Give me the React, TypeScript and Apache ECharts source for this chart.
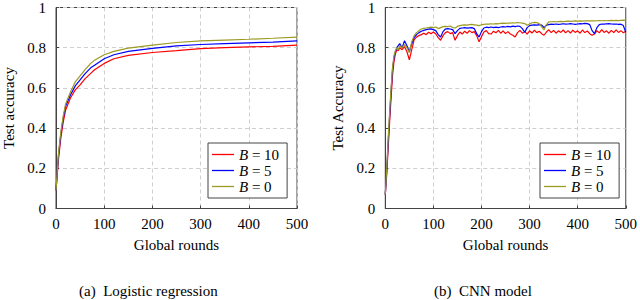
import React, { useEffect, useRef } from "react";
import * as echarts from "echarts";

const roundsLR = [0, 5, 10, 15, 20, 30, 40, 50, 60, 72, 80, 100, 120, 150, 200, 250, 300, 350, 400, 450, 500];
const lrB10 = [0.09, 0.24, 0.35, 0.43, 0.49, 0.55, 0.59, 0.615, 0.645, 0.672, 0.69, 0.722, 0.745, 0.762, 0.776, 0.785, 0.795, 0.8, 0.804, 0.807, 0.813];
const lrB5 = [0.09, 0.26, 0.37, 0.45, 0.51, 0.565, 0.61, 0.64, 0.67, 0.7, 0.713, 0.745, 0.765, 0.782, 0.797, 0.809, 0.816, 0.82, 0.824, 0.828, 0.834];
const lrB0 = [0.09, 0.27, 0.38, 0.46, 0.52, 0.58, 0.63, 0.66, 0.69, 0.722, 0.738, 0.765, 0.782, 0.798, 0.813, 0.826, 0.834, 0.838, 0.842, 0.847, 0.853];

const roundsCNN = [
  0, 3, 6, 9, 12, 15, 18, 21, 24, 27,
  30, 35, 40, 45, 50, 55, 60, 65, 70, 75,
  80, 85, 90, 95, 100, 105, 110, 115, 120, 125,
  130, 135, 140, 145, 150, 155, 160, 165, 170, 175,
  180, 185, 190, 195, 200, 205, 210, 215, 220, 225,
  230, 235, 240, 245, 250, 255, 260, 265, 270, 275,
  280, 285, 290, 295, 300, 305, 310, 315, 320, 325,
  330, 335, 340, 345, 350, 355, 360, 365, 370, 375,
  380, 385, 390, 395, 400, 405, 410, 415, 420, 425,
  430, 435, 440, 445, 450, 455, 460, 465, 470, 475,
  480, 485, 490, 495, 500,
];
const cnnB0 = [
  0.07, 0.2, 0.35, 0.48, 0.6, 0.7, 0.76, 0.785, 0.8, 0.79,
  0.81, 0.8, 0.815, 0.8, 0.775, 0.83, 0.86, 0.875, 0.885, 0.893,
  0.896, 0.898, 0.9, 0.902, 0.9, 0.903, 0.895, 0.9, 0.905, 0.906,
  0.905, 0.908, 0.9, 0.898, 0.906, 0.91, 0.912, 0.914, 0.912, 0.915,
  0.916, 0.914, 0.912, 0.91, 0.914, 0.916, 0.918, 0.917, 0.919, 0.918,
  0.92, 0.919, 0.921, 0.922, 0.921, 0.923, 0.922, 0.924, 0.923, 0.925,
  0.924, 0.922, 0.92, 0.912, 0.918, 0.924, 0.926, 0.925, 0.92, 0.905,
  0.888, 0.915, 0.928, 0.929, 0.93, 0.929, 0.93, 0.931, 0.93, 0.931,
  0.932, 0.931, 0.932, 0.933, 0.932, 0.933, 0.932, 0.933, 0.934, 0.933,
  0.934, 0.933, 0.934, 0.935, 0.934, 0.935, 0.934, 0.935, 0.936, 0.935,
  0.936, 0.935, 0.936, 0.937, 0.936,
];
const cnnB5 = [
  0.07, 0.19, 0.33, 0.46, 0.58, 0.69, 0.75, 0.78, 0.8, 0.81,
  0.82, 0.8, 0.835, 0.81, 0.78, 0.82, 0.85, 0.865, 0.875, 0.882,
  0.886, 0.89, 0.892, 0.894, 0.89, 0.885, 0.865, 0.853, 0.88, 0.893,
  0.895, 0.893, 0.89, 0.87, 0.885, 0.896, 0.898, 0.9, 0.897, 0.899,
  0.9, 0.895, 0.87, 0.853, 0.88, 0.898, 0.902, 0.9, 0.903, 0.9,
  0.902, 0.9, 0.903, 0.905, 0.903, 0.906, 0.904, 0.907, 0.905, 0.908,
  0.906, 0.895, 0.877, 0.9, 0.91, 0.912, 0.914, 0.912, 0.915, 0.913,
  0.9, 0.912, 0.915, 0.917, 0.916, 0.918, 0.916, 0.917, 0.919, 0.917,
  0.918, 0.92, 0.918, 0.916, 0.918, 0.92, 0.919, 0.921, 0.92, 0.915,
  0.885, 0.87, 0.9, 0.915, 0.918, 0.917, 0.919, 0.92, 0.918, 0.917,
  0.918, 0.916, 0.917, 0.91, 0.877,
];
const cnnB10 = [
  0.07, 0.17, 0.3, 0.43, 0.55, 0.66, 0.73, 0.77, 0.79, 0.785,
  0.8, 0.79, 0.805, 0.78, 0.74, 0.79, 0.84, 0.853, 0.86, 0.865,
  0.872, 0.865, 0.877, 0.87, 0.878, 0.868, 0.85, 0.837, 0.86, 0.875,
  0.88, 0.87, 0.875, 0.837, 0.86, 0.878, 0.868, 0.882, 0.872, 0.885,
  0.875, 0.88, 0.86, 0.829, 0.855, 0.878, 0.885, 0.87, 0.868, 0.882,
  0.874, 0.886, 0.872, 0.884, 0.87, 0.88, 0.868, 0.862, 0.853, 0.875,
  0.886, 0.872, 0.88, 0.868, 0.884, 0.873, 0.887, 0.875, 0.882, 0.87,
  0.862, 0.878, 0.889, 0.875, 0.886, 0.872, 0.884, 0.876, 0.888, 0.874,
  0.885, 0.873, 0.887, 0.876, 0.884, 0.872, 0.888, 0.875, 0.883, 0.87,
  0.862, 0.868, 0.885, 0.874, 0.89, 0.876, 0.884, 0.872, 0.886, 0.875,
  0.889, 0.876, 0.885, 0.874, 0.882,
];

const seriesNames = ["B = 10", "B = 5", "B = 0"];
const seriesColors = ["#ff0000", "#0000ff", "#9c9a24"];

const FONT = "'Liberation Serif', 'Times New Roman', serif";

export default function App() {
  const ref = useRef<HTMLDivElement>(null);
  useEffect(() => {
    if (!ref.current) return;
    const chart = echarts.init(ref.current, undefined, { renderer: "svg" });
    const pair = (xs: number[], ys: number[]) => xs.map((x, i) => [x, ys[i]]);
    const lrData = [lrB10, lrB5, lrB0];
    const cnnData = [cnnB10, cnnB5, cnnB0];
    const axisColor = "#444";
    const mkX = (gi: number) => ({
      type: "value",
      gridIndex: gi,
      min: 0,
      max: 500,
      interval: 100,
      name: "Global rounds",
      nameLocation: "middle",
      nameGap: 29,
      nameTextStyle: { fontFamily: FONT, fontSize: 15, color: "#000" },
      axisLine: { show: true, lineStyle: { color: axisColor, width: 1 } },
      axisTick: { show: true, inside: true, length: 3, lineStyle: { color: axisColor } },
      axisLabel: { fontFamily: FONT, fontSize: 15, color: "#000", margin: 8 },
      splitLine: { show: true, lineStyle: { color: "#cfcfcf", type: [4, 3], width: 1 } },
    });
    const mkY = (gi: number, name: string) => ({
      type: "value",
      gridIndex: gi,
      min: 0,
      max: 1,
      interval: 0.2,
      name,
      nameLocation: "middle",
      nameGap: 40,
      nameTextStyle: { fontFamily: FONT, fontSize: 15, color: "#000" },
      axisLine: { show: true, lineStyle: { color: axisColor, width: 1 } },
      axisTick: { show: true, inside: true, length: 3, lineStyle: { color: axisColor } },
      axisLabel: {
        fontFamily: FONT,
        fontSize: 15,
        color: "#000",
        margin: 10,
        formatter: (v: number) => (v === 0 ? "0" : v === 1 ? "1" : v.toFixed(1)),
      },
      splitLine: { show: true, lineStyle: { color: "#cfcfcf", type: [4, 3], width: 1 } },
    });
    const series: any[] = [];
    [0, 1].forEach((gi) => {
      seriesNames.forEach((n, k) => {
        series.push({
          type: "line",
          name: n,
          xAxisIndex: gi,
          yAxisIndex: gi,
          symbol: "none",
          showSymbol: false,
          data: gi === 0 ? pair(roundsLR, lrData[k]) : pair(roundsCNN, cnnData[k]),
          lineStyle: { color: seriesColors[k], width: 1.2 },
          itemStyle: { color: seriesColors[k] },
          z: 2 + k,
        });
      });
    });
    const mkLegend = (left: number) => ({
      orient: "vertical",
      left,
      top: 143,
      padding: [4, 8, 4, 4],
      itemGap: 1,
      itemWidth: 22,
      itemHeight: 17,
      icon: "path://M0,8 L22,8 L22,9.3 L0,9.3 Z",
      borderColor: "#444",
      borderWidth: 1,
      backgroundColor: "#fff",
      data: seriesNames,
      selectedMode: false,
      textStyle: {
        fontFamily: FONT,
        fontSize: 15,
        color: "#000",
        rich: { i: { fontFamily: FONT, fontStyle: "italic", fontSize: 15, color: "#000" } },
      },
      formatter: (n: string) => "{i|B}" + n.slice(1),
    });
    chart.setOption({
      animation: false,
      backgroundColor: "#fff",
      grid: [
        { left: 53.3, top: 6, width: 243.7, height: 202.5, show: true, borderColor: axisColor, borderWidth: 1, backgroundColor: "transparent" },
        { left: 385.3, top: 6, width: 244, height: 202.5, show: true, borderColor: axisColor, borderWidth: 1, backgroundColor: "transparent" },
      ],
      xAxis: [mkX(0), mkX(1)],
      yAxis: [mkY(0, "Test accuracy"), mkY(1, "Test Accuracy")],
      legend: [mkLegend(208), mkLegend(540)],
      series,
      graphic: [
        {
          type: "text",
          left: 151 - 72,
          top: 283,
          style: { text: "(a)  Logistic regression", fontFamily: FONT, fontSize: 15, fill: "#000" },
        },
        {
          type: "text",
          left: 483 - 49,
          top: 283,
          style: { text: "(b)  CNN model", fontFamily: FONT, fontSize: 15, fill: "#000" },
        },
      ],
    });
    return () => chart.dispose();
  }, []);
  return <div ref={ref} style={{ position: "fixed", left: 0, top: 0, width: 640, height: 300 }} />;
}
